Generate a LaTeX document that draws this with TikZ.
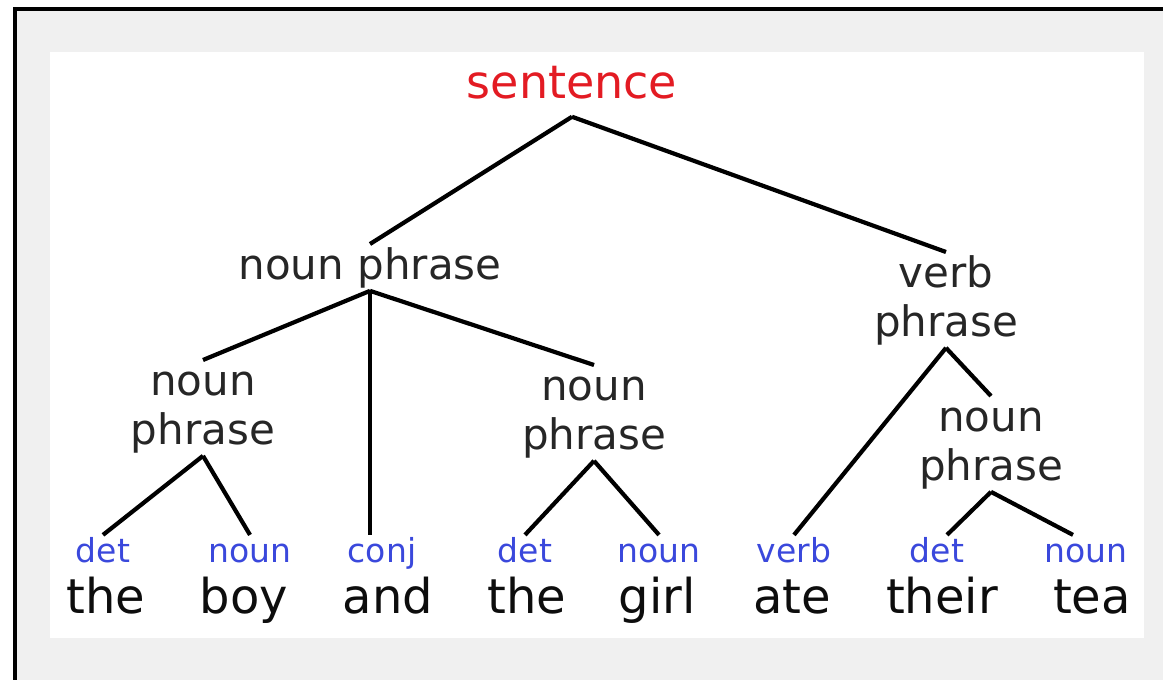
\documentclass[tikz,border=0pt]{standalone}
\usepackage{fontspec}
\setmainfont{DejaVu Sans}
\usepackage{xcolor}
\usepackage{tikz}
\usetikzlibrary{positioning}
\definecolor{sentred}{RGB}{227,27,35}
\definecolor{tagblue}{RGB}{58,72,220}
\definecolor{framegray}{RGB}{240,240,240}
\newcommand{\asc}{\vphantom{h}}

\begin{document}
\begin{tikzpicture}[x=0.5pt,y=-0.5pt,-,line width=2.1pt,
                    phrase/.style={align=center,inner sep=0.5pt,text=black!85,anchor=north,
                      font=\fontsize{21}{24.5}\selectfont},
                    tag/.style={inner sep=0pt,text=tagblue,text height=12.5pt,anchor=base,
                      font=\fontsize{16.5}{20}\selectfont},
                    word/.style={inner sep=0pt,anchor=base,text=black!95,
                      font=\fontsize{24}{28}\selectfont}]

  \useasboundingbox (0,0) rectangle (1163,680);
  \fill[white] (0,0) rectangle (1163,680);
  \fill[framegray] (15,9) rectangle (1163,680);
  \draw[line width=1.75pt] (15,680) -- (15,9) -- (1163,9);
  \fill[white] (50,52) rectangle (1144,638);

  \node[text=sentred,inner xsep=0pt,inner ysep=8pt,anchor=base,
        font=\fontsize{23}{28}\selectfont] (s) at (572,98) {sentence};

  \node[phrase] (np) at (370,244) {noun phrase};
  \node[phrase] (vp) at (946,252) {verb\\phrase};
  \node[phrase] (np1) at (203,360) {\asc noun\\phrase};
  \node[phrase] (np2) at (594,365) {\asc noun\\phrase};
  \node[phrase] (np3) at (991,396) {\asc noun\\phrase};

  \node[tag] (t1) at (103,562) {det};
  \node[tag] (t2) at (250,562) {noun};
  \node[tag] (t3) at (382,562) {conj};
  \node[tag] (t4) at (525,562) {det};
  \node[tag] (t5) at (659,562) {noun};
  \node[tag] (t6) at (794,562) {verb};
  \node[tag] (t7) at (937,562) {det};
  \node[tag] (t8) at (1086,562) {noun};

  \node[word] (w1) at (106,613) {the};
  \node[word] (w2) at (244,613) {boy};
  \node[word] (w3) at (388,613) {and};
  \node[word] (w4) at (527,613) {the};
  \node[word] (w5) at (657,613) {girl};
  \node[word] (w6) at (792,613) {ate};
  \node[word] (w7) at (942,613) {their};
  \node[word] (w8) at (1092,613) {tea};

  \path
    (s.south) edge (np.north)
              edge (vp.north)
    (np.south) edge (np1.north)
               edge (np2.north)
               edge (np.south |- t3.north)
    (np1.south) edge (t1.north)
                edge (t2.north)
    (np2.south) edge (t4.north)
                edge (t5.north)
    (vp.south) edge (t6.north)
               edge (np3.north)
    (np3.south) edge ([xshift=5pt]t7.north)
                edge ([xshift=-6.5pt]t8.north);
\end{tikzpicture}
\end{document}
